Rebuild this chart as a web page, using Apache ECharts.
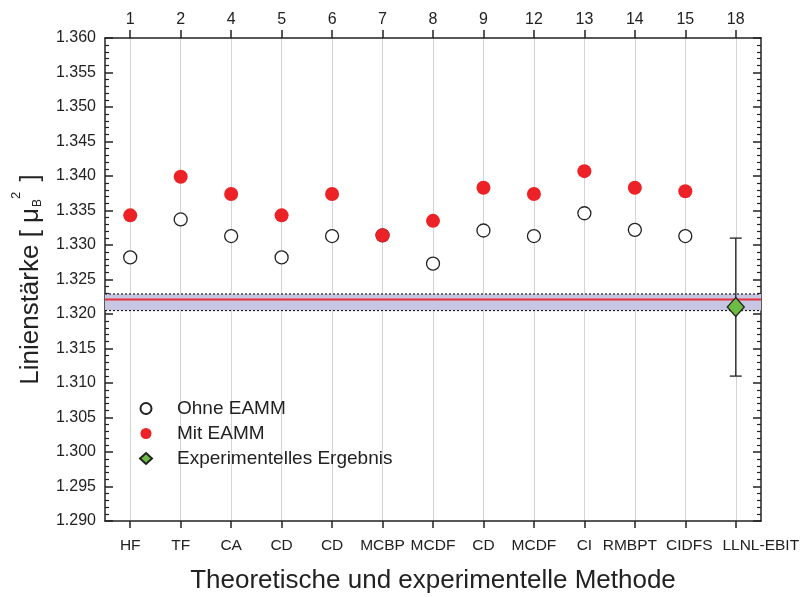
<!DOCTYPE html>
<html>
<head>
<meta charset="utf-8">
<script src="https://cdn.jsdelivr.net/npm/echarts@6/dist/echarts.min.js"></script>
<style>
html,body{margin:0;padding:0;background:#fff;}
#chart{width:800px;height:597px;}
</style>
</head>
<body>
<div id="chart"></div>
<script>
const categories = ['HF','TF','CA','CD','CD','MCBP','MCDF','CD','MCDF','CI','RMBPT','CIDFS','LLNL-EBIT'];
const topLabels = ['1','2','4','5','6','7','8','9','12','13','14','15','18'];
const ohneEAMM = [1.3282,1.3337,1.3313,1.3282,1.3313,1.3314,1.3273,1.3321,1.3313,1.3346,1.3322,1.3313,null];
const mitEAMM  = [1.3343,1.3399,1.3374,1.3343,1.3374,1.3314,1.3335,1.3383,1.3374,1.3407,1.3383,1.3378,null];
const experiment = [null,null,null,null,null,null,null,null,null,null,null,null,1.3210];
const expErrLow = 1.3110;
const expErrHigh = 1.3310;
const expIndex = 12;
const bandLow = 1.3205;
const bandHigh = 1.3229;
const bandCenter = 1.3221;

const chart = echarts.init(document.getElementById('chart'));
const txt = '#222';
const FONT = 'Liberation Sans, Arial, sans-serif';
const axisLine = {show:true, lineStyle:{color:'#222', width:1.5}};

const labelPads = {10:[0,10,0,0], 11:[0,0,0,8], 12:[0,0,0,50]};
const catData = categories.map((c, i) => labelPads[i]
  ? {value:c, textStyle:{padding:labelPads[i]}}
  : c);

const option = {
  animation:false,
  backgroundColor:'#fff',
  textStyle:{fontFamily:FONT},
  grid:{left:105, right:39, top:38, bottom:76, containLabel:false, outerBoundsMode:'none'},
  legend:{
    orient:'vertical', left:134, top:394,
    itemWidth:12, itemHeight:11, itemGap:6,
    textStyle:{fontSize:19, color:txt, fontFamily:FONT, padding:[0,0,0,20]},
    data:['Ohne EAMM','Mit EAMM','Experimentelles Ergebnis']
  },
  xAxis:[{
    type:'category', data:catData, position:'bottom', boundaryGap:true,
    axisLine:axisLine,
    axisTick:{show:true, alignWithLabel:true, length:7, lineStyle:{color:'#222', width:1.5}},
    axisLabel:{color:txt, fontSize:15.5, margin:17, interval:0},
    splitLine:{show:true, alignWithLabel:true, interval:0, lineStyle:{color:'#d4d4d4', width:1}},
    name:'Theoretische und experimentelle Methode', nameLocation:'middle', nameGap:47,
    nameTextStyle:{fontSize:26, color:txt}
  },{
    type:'category', data:topLabels, position:'top', boundaryGap:true,
    axisLine:axisLine,
    axisTick:{show:true, alignWithLabel:true, length:8, lineStyle:{color:'#222', width:1.5}},
    axisLabel:{color:txt, fontSize:16, margin:10, interval:0},
    splitLine:{show:false}
  }],
  yAxis:[{
    type:'value', min:1.29, max:1.36, interval:0.005, position:'left',
    axisLine:axisLine,
    axisTick:{show:true, inside:true, length:8, lineStyle:{color:'#222', width:1.5}},
    minorTick:{show:true, splitNumber:5, length:4, lineStyle:{color:'#222', width:1.2}},
    axisLabel:{color:txt, fontSize:16, margin:9, formatter:v=>v.toFixed(3)},
    splitLine:{show:false},
    name:'{a|Linienstärke [ μ}{sub|B}{sup|2}{a| ]}', nameLocation:'middle', nameGap:61, nameRotate:90,
    nameTextStyle:{
      color:txt,
      rich:{
        a:{fontSize:26, color:txt, lineHeight:34, verticalAlign:'bottom'},
        sub:{fontSize:12, color:txt, verticalAlign:'bottom', lineHeight:34, padding:[0,0,0,1]},
        sup:{fontSize:13, color:txt, verticalAlign:'top', lineHeight:34, padding:[0,3,0,0]}
      }
    }
  },{
    type:'value', min:1.29, max:1.36, interval:0.005, position:'right',
    axisLine:axisLine,
    axisTick:{show:true, inside:true, length:8, lineStyle:{color:'#222', width:1.5}},
    minorTick:{show:true, splitNumber:5, length:4, lineStyle:{color:'#222', width:1.2}},
    axisLabel:{show:false},
    splitLine:{show:false}
  }],
  series:[
    {
      name:'band', type:'custom', z:2, silent:true, clip:false,
      encode:{x:-1, y:[0,1,2]},
      data:[[bandLow, bandHigh, bandCenter]],
      renderItem:function(params, api){
        const cs = params.coordSys;
        const yLo = api.coord([0, api.value(0)])[1];
        const yHi = api.coord([0, api.value(1)])[1];
        const yC = api.coord([0, api.value(2)])[1];
        const x1 = cs.x, x2 = cs.x + cs.width;
        const dot = {stroke:'#222', lineWidth:1.2, lineDash:[2,2]};
        return {type:'group', children:[
          {type:'rect', shape:{x:x1, y:yHi, width:x2-x1, height:yLo-yHi}, style:{fill:'#c7c7e3'}},
          {type:'line', shape:{x1:x1, y1:yHi, x2:x2, y2:yHi}, style:dot},
          {type:'line', shape:{x1:x1, y1:yLo, x2:x2, y2:yLo}, style:dot},
          {type:'line', shape:{x1:x1, y1:yC, x2:x2, y2:yC}, style:{stroke:'#e8333a', lineWidth:2}}
        ]};
      }
    },
    {
      name:'Ohne EAMM', type:'scatter', data:ohneEAMM, symbol:'circle', symbolSize:13,
      itemStyle:{color:'#ffffff', borderColor:'#222', borderWidth:1.3, opacity:1}, z:3
    },
    {
      name:'Mit EAMM', type:'scatter', data:mitEAMM, symbol:'circle', symbolSize:14,
      itemStyle:{color:'#ec2227', opacity:1}, z:4
    },
    {
      name:'errbar', type:'custom', z:5, silent:true,
      data:[[expIndex, expErrLow, expErrHigh]],
      renderItem:function(params, api){
        const lo = api.coord([api.value(0), api.value(1)]);
        const hi = api.coord([api.value(0), api.value(2)]);
        const cw = 6;
        const st = {stroke:'#222', lineWidth:1.3};
        return {type:'group', children:[
          {type:'line', shape:{x1:lo[0], y1:lo[1], x2:hi[0], y2:hi[1]}, style:st},
          {type:'line', shape:{x1:lo[0]-cw, y1:lo[1], x2:lo[0]+cw, y2:lo[1]}, style:st},
          {type:'line', shape:{x1:hi[0]-cw, y1:hi[1], x2:hi[0]+cw, y2:hi[1]}, style:st}
        ]};
      }
    },
    {
      name:'Experimentelles Ergebnis', type:'scatter', data:experiment, symbol:'diamond', symbolSize:[17,19],
      itemStyle:{color:'#6dbb45', borderColor:'#222', borderWidth:1.3, opacity:1}, z:6
    }
  ]
};
chart.setOption(option);
</script>
</body>
</html>
